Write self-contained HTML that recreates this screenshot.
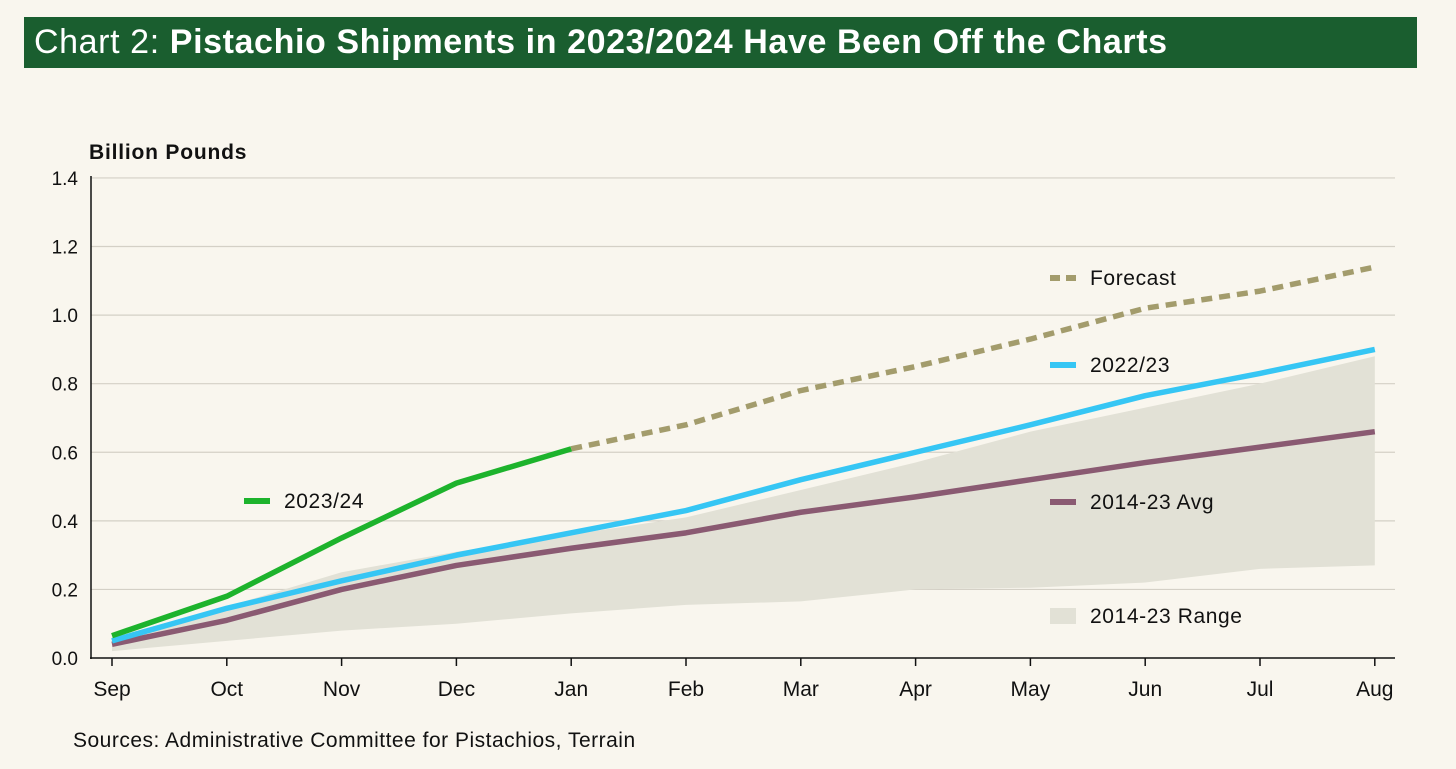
<!DOCTYPE html>
<html><head><meta charset="utf-8"><style>
body{margin:0;background:#f9f6ee;width:1456px;height:769px;overflow:hidden;font-family:"Liberation Sans",sans-serif;}
#title{position:absolute;left:24px;top:17px;width:1393px;height:51px;background:#1a5e2f;color:#fff;font-size:34px;letter-spacing:0.6px;line-height:51px;padding-left:10px;box-sizing:border-box;white-space:nowrap;}
svg{position:absolute;left:0;top:0}
</style></head><body>
<div id="title">Chart 2: <b>Pistachio Shipments in 2023/2024 Have Been Off the Charts</b></div>
<svg width="1456" height="769" id="c"></svg>
<script>
const months=["Sep","Oct","Nov","Dec","Jan","Feb","Mar","Apr","May","Jun","Jul","Aug"];
const yTicks=[0,0.2,0.4,0.6,0.8,1.0,1.2,1.4];
const s2324=[0.065,0.18,0.35,0.51,0.61];
const forecast=[null,null,null,null,0.61,0.68,0.78,0.85,0.93,1.02,1.07,1.14];
const s2223=[0.05,0.145,0.225,0.30,0.365,0.43,0.52,0.60,0.68,0.765,0.83,0.90];
const avg=[0.04,0.11,0.20,0.27,0.32,0.365,0.425,0.47,0.52,0.57,0.615,0.66];
const rangeHi=[0.06,0.15,0.25,0.31,0.36,0.41,0.49,0.57,0.66,0.73,0.80,0.88];
const rangeLo=[0.02,0.05,0.08,0.10,0.13,0.155,0.165,0.20,0.205,0.22,0.26,0.27];
const svg=document.getElementById('c');const NS='http://www.w3.org/2000/svg';
const x=i=>112+i*114.8, y=v=>658-v*342.9;
function el(t,a,txt){const e=document.createElementNS(NS,t);for(const k in a)e.setAttribute(k,a[k]);if(txt!=null)e.textContent=txt;svg.appendChild(e);return e;}
yTicks.forEach(v=>{if(v>0){const g=el('line',{x1:91,x2:1395,y1:y(v),y2:y(v),stroke:'#d4d0c6','stroke-width':1.2});

}
const t=el('text',{x:78,y:y(v)+7,'text-anchor':'end','font-size':19,fill:'#111'},v.toFixed(1));

});
let pts=rangeHi.map((v,i)=>x(i)+','+y(v)).concat(rangeLo.map((v,i)=>x(i)+','+y(v)).reverse());
const r=el('polygon',{points:pts.join(' '),fill:'#e2e1d6'});


el('line',{x1:91,x2:91,y1:176,y2:659,stroke:'#111','stroke-width':1.5});
el('line',{x1:90,x2:1395,y1:658,y2:658,stroke:'#111','stroke-width':1.5});
months.forEach((m,i)=>{el('line',{x1:x(i),x2:x(i),y1:658,y2:666,stroke:'#111','stroke-width':1.5});
const t=el('text',{x:x(i),y:696,'text-anchor':'middle','font-size':21,fill:'#111'},m);

});
function line(arr,col,name,dash){const p=[];arr.forEach((v,i)=>{if(v!=null)p.push(x(i)+','+y(v));});
const l=el('polyline',{points:p.join(' '),fill:'none',stroke:col,'stroke-width':5.5,'stroke-linejoin':'round'});
if(dash)l.setAttribute('stroke-dasharray',dash);

}
line(forecast,'#a39c6c','forecast-line','11,7');
line(avg,'#8a5a72','avg-line');
line(s2223,'#36c6f4','line-2022-23');
line(s2324,'#1db32c','line-2023-24');
function leg(x1,yy,col,label,name,dash,patch){
if(patch){el('rect',{x:x1,y:yy-8,width:26,height:16,fill:'#e2e1d6'});}
else{const l=el('line',{x1:x1,x2:x1+26,y1:yy,y2:yy,stroke:col,'stroke-width':6});if(dash)l.setAttribute('stroke-dasharray',dash);}
const t=el('text',{x:x1+40,y:yy+7,'font-size':21,'letter-spacing':0.6,fill:'#111'},label);

}
leg(1050,278,'#a39c6c','Forecast','legend-forecast','10,6');
leg(1050,365,'#36c6f4','2022/23','legend-2022-23');
leg(1050,502,'#8a5a72','2014-23 Avg','legend-avg');
leg(1050,616,'','2014-23 Range','legend-range',null,true);
leg(244,501,'#1db32c','2023/24','legend-2023-24');
const yt=el('text',{x:89,y:159,'font-size':21,'letter-spacing':0.8,'font-weight':'bold',fill:'#111'},'Billion Pounds');


const src=el('text',{x:73,y:747,'font-size':21,'letter-spacing':0.5,fill:'#111'},'Sources: Administrative Committee for Pistachios, Terrain');


</script>
</body></html>
